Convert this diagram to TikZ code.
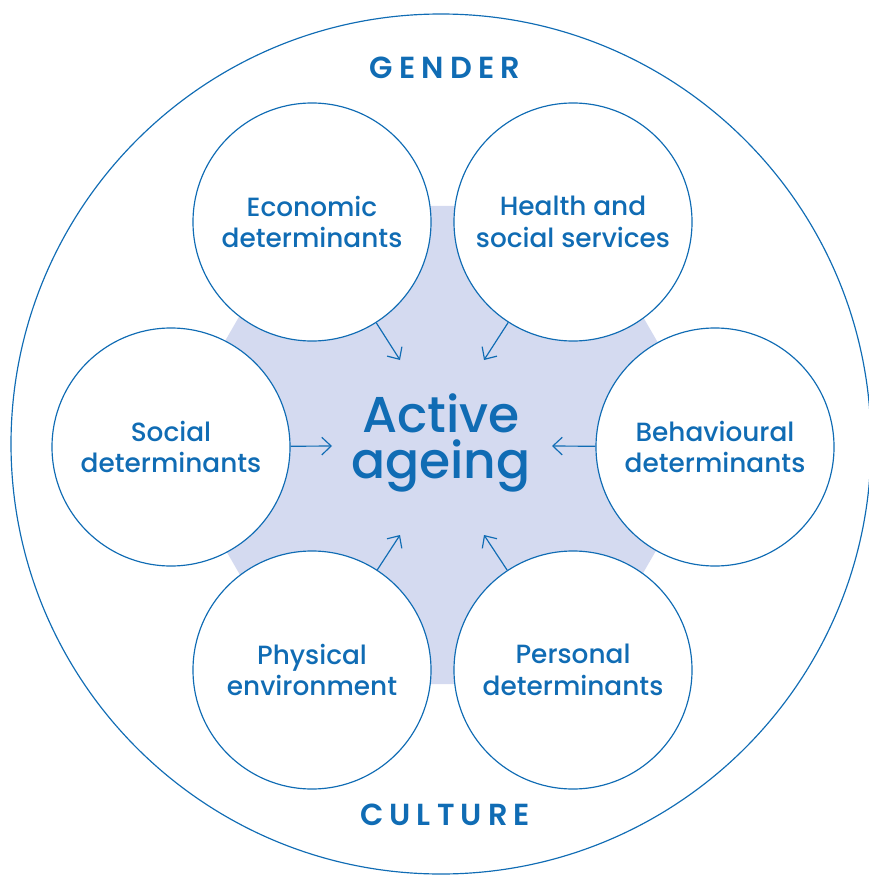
\documentclass[tikz,border=0pt]{standalone}
\usepackage{fontspec}
\setmainfont{Poppins Medium}
\newfontfamily\capsfont{Poppins SemiBold}[LetterSpace=20]
\usetikzlibrary{arrows.meta}
\definecolor{ageblue}{RGB}{16,108,180}
\definecolor{hexfill}{RGB}{212,218,240}

\begin{document}
\begin{tikzpicture}[x=0.03cm,y=-0.03cm,
  factor/.style={circle, draw=ageblue, fill=white, line width=1pt, minimum size=7.14cm,
    align=center, text=ageblue, font=\fontsize{22.5}{27}\selectfont},
  arr/.style={draw=ageblue, line width=1pt, -{Straight Barb[length=8pt,width=15pt]}},
  frame/.style={font=\capsfont\fontsize{26}{28}\selectfont, text=ageblue},
  title/.style={text=ageblue, anchor=base, inner sep=0pt, font=\fontsize{43}{38}\selectfont}]
  \useasboundingbox (0,0) rectangle (868,875);
  %\draw[very thin,color=gray] (0,0) grid (868,875);
  \draw[ageblue, line width=1pt] (441,444) circle (430);
  \fill[hexfill] (441,445) +(0:276) -- +(60:276) -- +(120:276) -- +(180:276) -- +(240:276) -- +(300:276) -- cycle;

  \node[frame] (gender) at (445,68) {GENDER};
  \node[frame] (culture) at (445,815) {CULTURE};
  \node[title] (active) at (441,432) {Active};
  \node[title] (ageing) at (441,478) {ageing};

  \node[factor] (eco) at (312,222) {Economic\\determinants};
  \node[factor] (health) at (573,222) {Health and\\social services};
  \node[factor] (social) at (171,447) {Social\\determinants};
  \node[factor] (behav) at (715,447) {Behavioural\\determinants};
  \node[factor] (phys) at (312,670) {Physical\\environment};
  \node[factor] (pers) at (573,670) {Personal\\determinants};

  \coordinate (tipeco) at (400,360);
  \coordinate (tiphealth) at (484,360);
  \coordinate (tipsocial) at (332,446);
  \coordinate (tipbehav) at (552,446);
  \coordinate (tipphys) at (400,535);
  \coordinate (tippers) at (484,535);
  \draw[arr] (eco) -- (tipeco);
  \draw[arr] (health) -- (tiphealth);
  \draw[arr] (social) -- (tipsocial);
  \draw[arr] (behav) -- (tipbehav);
  \draw[arr] (phys) -- (tipphys);
  \draw[arr] (pers) -- (tippers);
\end{tikzpicture}
\end{document}
